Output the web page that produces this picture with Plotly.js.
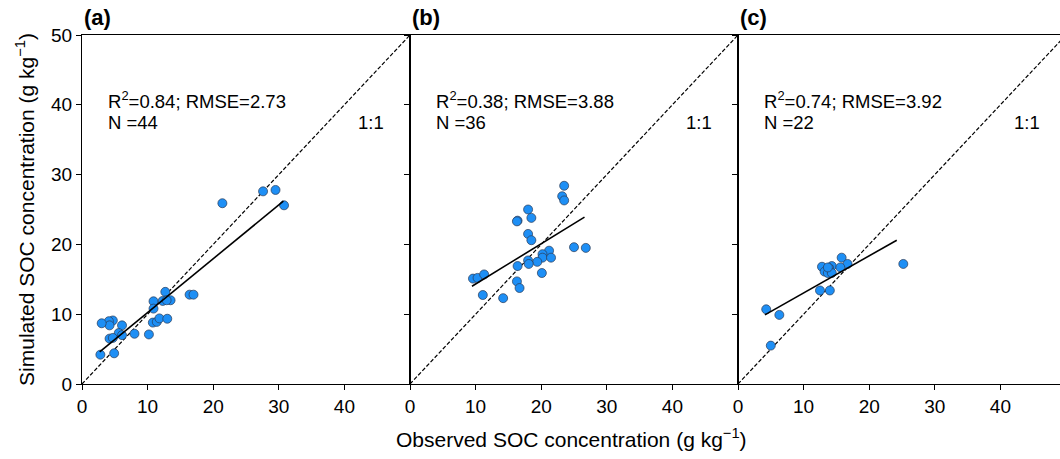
<!DOCTYPE html>
<html><head><meta charset="utf-8">
<script src="https://cdn.plot.ly/plotly-3.0.1.min.js"></script>
<style>html,body{margin:0;padding:0;background:#fff}#chart{width:1060px;height:459px}</style>
</head><body><div id="chart"></div>
<script>
// Panel (a)
const obsA = [21.4,27.6,29.5,30.8,12.7,10.9,12.3,13.5,12.9,10.9,16.4,17.0,10.8,11.4,11.8,13.0,10.2,8.0,6.1,5.6,6.1,4.7,4.1,4.2,3.0,4.2,4.7,4.9,2.8];
const simA = [25.9,27.6,27.8,25.6,13.2,11.85,11.9,12.0,12.0,10.8,12.8,12.8,8.8,8.9,9.4,9.35,7.1,7.2,8.4,7.3,7.0,9.1,9.0,8.4,8.7,6.5,6.6,4.4,4.2];
const fitA_x = [2.7, 30.7];
const fitA_y = [4.6, 26.2];
// Panel (b)
const obsB = [23.5,23.2,23.5,18.0,18.5,16.4,16.3,18.0,18.5,21.2,20.2,20.2,21.5,19.4,18.0,18.1,16.4,20.1,25.0,26.8,9.6,10.3,11.3,16.3,16.7,11.1,14.2];
const simB = [28.4,26.9,26.3,25.0,23.8,23.4,23.3,21.5,20.6,19.1,18.6,18.1,18.1,17.5,17.7,17.2,16.9,15.9,19.6,19.5,15.1,15.2,15.7,14.7,13.75,12.75,12.3];
const fitB_x = [9.45, 26.6];
const fitB_y = [14.0, 23.9];
// Panel (c)
const obsC = [25.2,15.8,16.7,12.8,14.3,13.9,15.6,13.2,13.7,14.3,12.5,14.0,4.3,6.3,5.0,13.7];
const simC = [17.2,18.1,17.2,16.8,16.9,16.6,16.7,16.1,15.9,15.9,13.4,13.4,10.7,9.9,5.5,16.7];
const fitC_x = [4.1, 24.2];
const fitC_y = [9.9, 20.6];
// 1:1 line
const oneToOne = [0, 50];
// Labels
const panelLabels = ['(a)','(b)','(c)'];
const statsText = ['R<sup>2</sup>=0.84; RMSE=2.73','R<sup>2</sup>=0.38; RMSE=3.88','R<sup>2</sup>=0.74; RMSE=3.92'];
const nText = ['N =44','N =36','N =22'];
const xTicks = [0,10,20,30,40];
const yTicks = [0,10,20,30,40,50];

const FONT = 'Liberation Sans, Arial, sans-serif';
const obs = [obsA, obsB, obsC], sim = [simA, simB, simC];
const fx = [fitA_x, fitB_x, fitC_x], fy = [fitA_y, fitB_y, fitC_y];
const traces = [];
for (let i = 0; i < 3; i++) {
  const xa = i === 0 ? 'x' : 'x' + (i + 1), ya = i === 0 ? 'y' : 'y' + (i + 1);
  traces.push({x: oneToOne, y: oneToOne, xaxis: xa, yaxis: ya, mode: 'lines', line: {color: '#000', width: 1.2, dash: '4px,2px'}, showlegend: false, hoverinfo: 'skip'});
  traces.push({x: obs[i], y: sim[i], xaxis: xa, yaxis: ya, mode: 'markers', marker: {size: 9, color: '#1e8ff5', line: {color: '#2a3a55', width: 0.7}}, showlegend: false});
  traces.push({x: fx[i], y: fy[i], xaxis: xa, yaxis: ya, mode: 'lines', line: {color: '#000', width: 1.6}, showlegend: false});
}
const W = 1060, L = 82, R = 0;
const pw = W - L - R;
const panelPx = 328;
const doms = [[0, panelPx / pw], [panelPx / pw, 2 * panelPx / pw], [2 * panelPx / pw, 1]];
const layout = {
  width: 1060, height: 459,
  margin: {l: L, r: R, t: 35, b: 75},
  paper_bgcolor: '#fff', plot_bgcolor: '#fff',
  font: {family: FONT, size: 18, color: '#000'},
  annotations: []
};
for (let i = 0; i < 3; i++) {
  const sfx = i === 0 ? '' : String(i + 1);
  const xmax = i === 2 ? 50 * (pw - 2 * panelPx) / panelPx : 50;
  layout['xaxis' + sfx] = {domain: doms[i], range: [0, xmax], anchor: 'y' + sfx, tickvals: xTicks, ticks: 'outside', ticklen: 5, tickwidth: 1, tickcolor: '#000', showline: true, linecolor: '#000', linewidth: 1, mirror: true, showgrid: false, zeroline: false, tickfont: {size: 19}};
  layout['yaxis' + sfx] = {domain: [0, 1], range: [0, 50], anchor: 'x' + sfx, tickvals: yTicks, ticks: 'outside', ticklen: 5, tickwidth: 1, tickcolor: '#000', showline: true, linecolor: '#000', linewidth: 1, mirror: true, showgrid: false, zeroline: false, showticklabels: i === 0, tickfont: {size: 19}};
  const xr = 'x' + sfx, yr = 'y' + sfx;
  layout.annotations.push({xref: xr + ' domain', yref: 'paper', x: 0, y: 1, yshift: 3, xanchor: 'left', yanchor: 'bottom', text: '<b>' + panelLabels[i] + '</b>', showarrow: false, font: {size: 22}});
  layout.annotations.push({xref: xr, yref: yr, x: 3.6, y: 40.7, xanchor: 'left', yanchor: 'middle', text: statsText[i], showarrow: false, font: {size: 18.5}});
  layout.annotations.push({xref: xr, yref: yr, x: 3.6, y: 37.4, xanchor: 'left', yanchor: 'middle', text: nText[i], showarrow: false, font: {size: 18.5}});
  layout.annotations.push({xref: xr, yref: yr, x: 41.8, y: 37.4, xanchor: 'left', yanchor: 'middle', text: '1:1', showarrow: false, font: {size: 18.5}});
}
layout.yaxis.title = {text: 'Simulated SOC concentration (g kg<sup>\u22121</sup>)', font: {size: 21}, standoff: 10};
layout.annotations.push({xref: 'paper', yref: 'paper', x: 0.5, y: 0, yshift: -54, xanchor: 'center', yanchor: 'middle', text: 'Observed SOC concentration (g kg<sup>\u22121</sup>)', showarrow: false, font: {size: 21}});
Plotly.newPlot('chart', traces, layout, {displayModeBar: false, staticPlot: true});
</script></body></html>
